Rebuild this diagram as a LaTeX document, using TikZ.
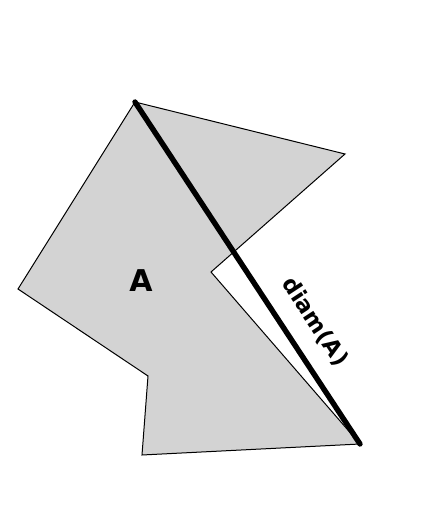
\documentclass[tikz,border=0pt]{standalone}
\usepackage{fontspec}
\setmainfont{DejaVu Sans}
\begin{document}
\begin{tikzpicture}[x=1pt,y=1pt,
  region/.style={fill={rgb,255:red,211;green,211;blue,211},draw=black,line width=1pt,line join=miter},
  diamline/.style={draw=black,line width=5.4pt,line cap=round},
  biglabel/.style={font=\bfseries\fontsize{30}{34}\selectfont,inner sep=0pt},
  smalllabel/.style={font=\bfseries\fontsize{22.5}{26}\selectfont,inner sep=0pt}]
\useasboundingbox (0,0) rectangle (440,523);
\coordinate (p1) at (135,421);
\coordinate (p2) at (345,369);
\coordinate (p3) at (211,251);
\coordinate (p4) at (360,79);
\coordinate (p5) at (142,68);
\coordinate (p6) at (148,147);
\coordinate (p7) at (18,234);
\draw[region] (p1) -- (p2) -- (p3) -- (p4) -- (p5) -- (p6) -- (p7) -- cycle;
\draw[diamline] (p1) -- (p4);
\node[biglabel] (lblA) at (141,242) {A};
\node[smalllabel,rotate=-56.7] (lbldiam) at (315,201) {diam(A)};
\end{tikzpicture}
\end{document}
